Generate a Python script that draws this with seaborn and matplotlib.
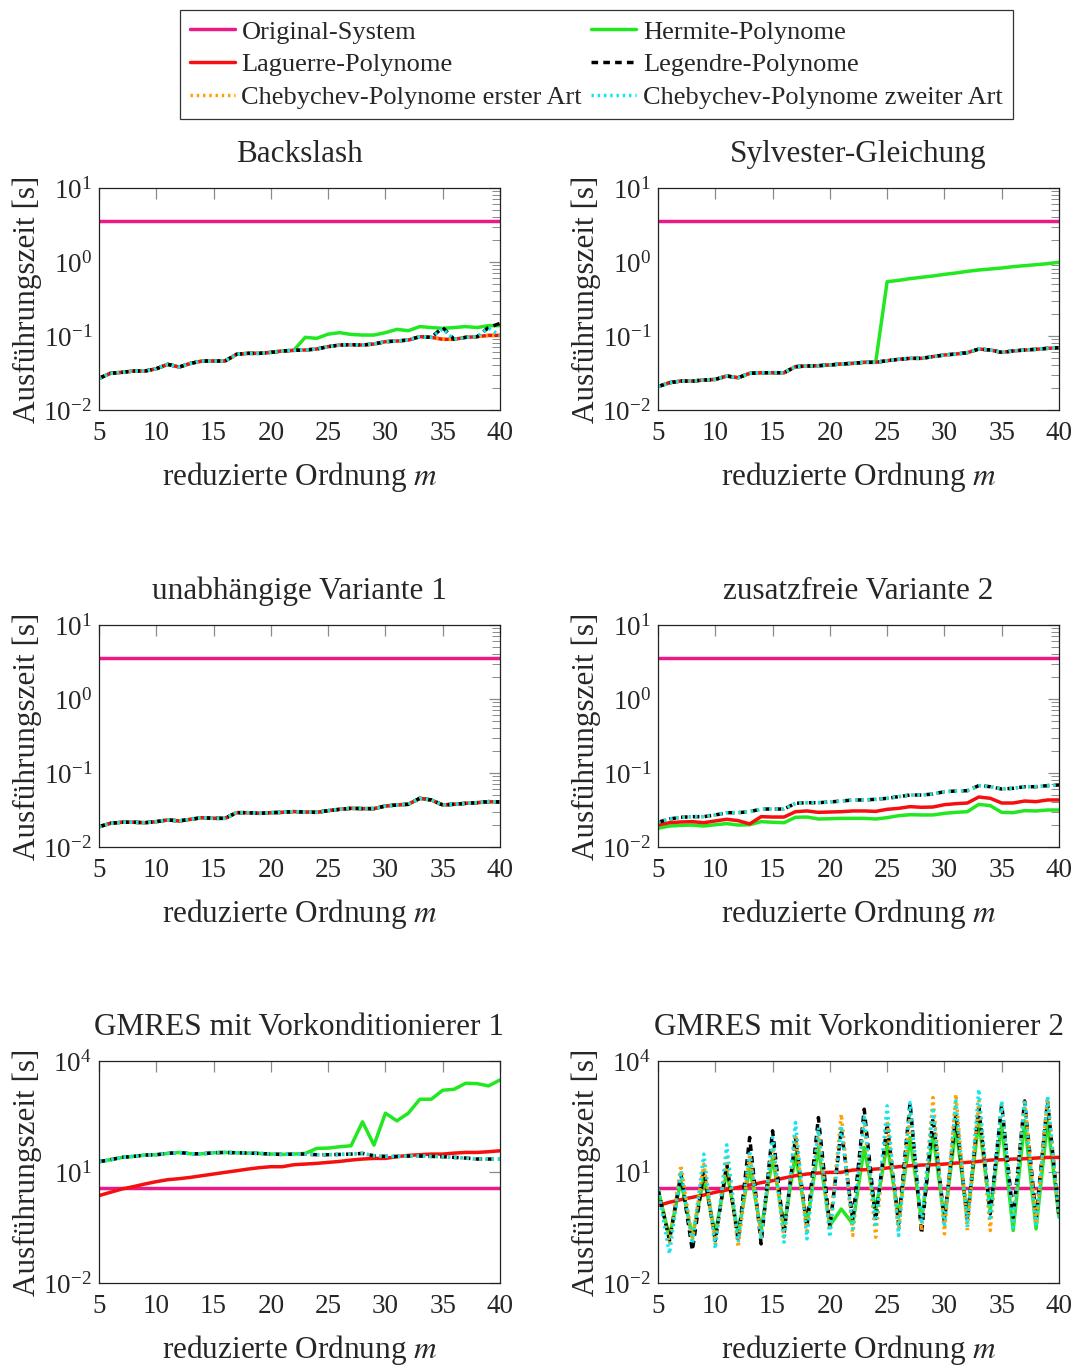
import numpy as np
import pandas as pd
import seaborn as sns
import matplotlib
matplotlib.use("Agg")
import matplotlib.pyplot as plt
from matplotlib.lines import Line2D
from matplotlib.ticker import FixedLocator, LogLocator, NullLocator, NullFormatter, LogFormatterSciNotation

# ---------------- data ----------------
m = list(range(5, 41))
ORIGINAL = 3.6

# Backslash
bs_lag = [0.0268, 0.0313, 0.0323, 0.0336, 0.0336, 0.0361, 0.0414, 0.0381, 0.0427, 0.0459, 0.0459, 0.0459,
          0.0565, 0.0583, 0.0583, 0.0601, 0.0627, 0.0640, 0.0647, 0.0667, 0.0718, 0.0755, 0.0763, 0.0755,
          0.0780, 0.0838, 0.0855, 0.0883, 0.0979, 0.0959, 0.0902, 0.0902, 0.0959, 0.0979, 0.102, 0.102]
bs_her = [0.0268, 0.0313, 0.0323, 0.0336, 0.0336, 0.0361, 0.0414, 0.0381, 0.0427, 0.0459, 0.0459, 0.0459,
          0.0565, 0.0583, 0.0583, 0.0601, 0.0627, 0.0640, 0.0959, 0.0929, 0.106, 0.111, 0.105, 0.103,
          0.103, 0.111, 0.123, 0.118, 0.134, 0.130, 0.127, 0.130, 0.134, 0.130, 0.138, 0.138]
bs_leg = [0.0268, 0.0313, 0.0323, 0.0336, 0.0336, 0.0361, 0.0414, 0.0381, 0.0427, 0.0459, 0.0459, 0.0459,
          0.0565, 0.0583, 0.0583, 0.0601, 0.0627, 0.0640, 0.0647, 0.0667, 0.0718, 0.0755, 0.0763, 0.0755,
          0.0780, 0.0838, 0.0855, 0.0883, 0.0979, 0.0959, 0.130, 0.0902, 0.0959, 0.0979, 0.130, 0.148]
bs_ch1 = [0.0268, 0.0313, 0.0323, 0.0336, 0.0336, 0.0361, 0.0414, 0.0381, 0.0427, 0.0459, 0.0459, 0.0459,
          0.0565, 0.0583, 0.0583, 0.0601, 0.0627, 0.0640, 0.0647, 0.0667, 0.0718, 0.0755, 0.0763, 0.0755,
          0.0780, 0.0838, 0.0855, 0.0883, 0.0979, 0.0959, 0.0902, 0.0902, 0.0959, 0.0979, 0.102, 0.102]
bs_ch2 = [0.0268, 0.0313, 0.0323, 0.0336, 0.0336, 0.0361, 0.0414, 0.0381, 0.0427, 0.0459, 0.0459, 0.0459,
          0.0565, 0.0583, 0.0583, 0.0601, 0.0627, 0.0640, 0.0647, 0.0667, 0.0718, 0.0755, 0.0763, 0.0755,
          0.0780, 0.0838, 0.0855, 0.0883, 0.0979, 0.0959, 0.125, 0.0902, 0.0959, 0.0979, 0.128, 0.102]

# Sylvester-Gleichung
sy_lag = [0.0207, 0.0234, 0.0246, 0.0246, 0.0254, 0.0259, 0.0288, 0.0273, 0.0313, 0.0319, 0.0319, 0.0319,
          0.0385, 0.0393, 0.0397, 0.0406, 0.0419, 0.0427, 0.0441, 0.0441, 0.0464, 0.0484, 0.0499, 0.0499,
          0.0526, 0.0554, 0.0571, 0.0595, 0.0667, 0.0647, 0.0601, 0.0627, 0.0647, 0.0661, 0.0681, 0.0695]
sy_her = [0.0207, 0.0234, 0.0246, 0.0246, 0.0254, 0.0259, 0.0288, 0.0273, 0.0313, 0.0319, 0.0319, 0.0319,
          0.0385, 0.0393, 0.0397, 0.0406, 0.0419, 0.0427, 0.0441, 0.0441, 0.542, 0.565, 0.596, 0.621,
          0.647, 0.681, 0.710, 0.748, 0.780, 0.804, 0.830, 0.865, 0.892, 0.920, 0.949, 0.990]

# unabhaengige Variante 1
uv_all = [0.0188, 0.0209, 0.0216, 0.0216, 0.0213, 0.0220, 0.0232, 0.0225, 0.0237, 0.0249, 0.0244, 0.0244,
          0.0291, 0.0291, 0.0285, 0.0291, 0.0294, 0.0301, 0.0297, 0.0294, 0.0310, 0.0323, 0.0333, 0.0330,
          0.0330, 0.0358, 0.0370, 0.0378, 0.0455, 0.0432, 0.0370, 0.0378, 0.0389, 0.0397, 0.0410, 0.0406]

# zusatzfreie Variante 2
zf_leg = [0.0216, 0.0239, 0.0252, 0.0257, 0.0257, 0.0271, 0.0291, 0.0291, 0.0300, 0.0326, 0.0326, 0.0326,
          0.0389, 0.0397, 0.0397, 0.0406, 0.0418, 0.0432, 0.0432, 0.0441, 0.0455, 0.0479, 0.0504, 0.0504,
          0.0520, 0.0559, 0.0571, 0.0577, 0.0675, 0.0653, 0.0608, 0.0621, 0.0653, 0.0653, 0.0675, 0.0689]
zf_lag = [0.0198, 0.0213, 0.0218, 0.0220, 0.0213, 0.0225, 0.0237, 0.0227, 0.0205, 0.0257, 0.0254, 0.0254,
          0.0300, 0.0307, 0.0294, 0.0297, 0.0300, 0.0307, 0.0307, 0.0303, 0.0323, 0.0333, 0.0351, 0.0344,
          0.0347, 0.0373, 0.0385, 0.0393, 0.0474, 0.0455, 0.0393, 0.0393, 0.0418, 0.0410, 0.0432, 0.0432]
zf_her = [0.0179, 0.0192, 0.0196, 0.0198, 0.0192, 0.0200, 0.0207, 0.0198, 0.0200, 0.0220, 0.0216, 0.0213,
          0.0252, 0.0254, 0.0239, 0.0241, 0.0244, 0.0244, 0.0244, 0.0239, 0.0249, 0.0265, 0.0273, 0.0271,
          0.0271, 0.0285, 0.0294, 0.0300, 0.0377, 0.0362, 0.0294, 0.0291, 0.0310, 0.0307, 0.0316, 0.0316]

# GMRES mit Vorkonditionierer 1
g1_leg = [18.95, 21.5, 24.8, 26.4, 28.7, 29.3, 31.8, 33.8, 31.1, 31.1, 33.1, 33.8,
          33.1, 32.4, 31.8, 30.5, 29.9, 30.5, 30.5, 29.3, 29.3, 29.9, 30.5, 31.8,
          27.5, 26.4, 26.4, 26.9, 26.9, 26.4, 25.9, 24.8, 23.8, 22.4, 22.4, 22.4]
g1_her = [18.95, 21.5, 24.8, 26.4, 28.7, 29.3, 31.8, 33.8, 31.1, 31.1, 33.1, 33.8,
          33.1, 32.4, 31.8, 30.5, 29.9, 30.5, 31.8, 43.4, 44.3, 48.1, 51.2, 227,
          53.3, 389, 241, 389, 926, 926, 1620, 1723, 2501, 2450, 2120, 3075]
g1_lag = [2.30, 2.83, 3.47, 4.02, 4.74, 5.48, 6.20, 6.60, 7.17, 7.95, 8.82, 9.78,
          10.8, 12.0, 13.1, 13.9, 13.9, 15.7, 16.4, 17.1, 18.2, 19.3, 21.0, 22.4,
          23.3, 23.3, 25.9, 28.1, 29.3, 30.5, 30.5, 32.4, 33.8, 33.8, 35.3, 37.5]

# GMRES mit Vorkonditionierer 2
g2_her = [3.48, 0.173, 5.83, 0.173, 7.17, 0.213, 10.8, 0.213, 13.3, 0.262, 24.8, 0.322,
          30.5, 0.396, 46.1, 0.357, 1.00, 0.396, 46.1, 0.906, 56.7, 0.599, 85.8, 0.487,
          106, 0.487, 160, 0.599, 241, 0.906, 196, 0.262, 241, 0.290, 241, 0.599]
g2_leg = [3.48, 0.141, 8.82, 0.0757, 10.8, 0.141, 16.4, 0.141, 85.8, 0.114, 130, 0.213,
          85.8, 0.322, 297, 0.322, 144, 0.487, 498, 0.487, 196, 0.396, 753, 0.213,
          297, 0.487, 365, 0.487, 552, 0.737, 679, 0.599, 835, 0.599, 835, 0.599]
g2_ch1 = [3.48, 0.114, 15.4, 0.141, 16.4, 0.114, 24.8, 0.093, 30.5, 0.173, 46.1, 0.173,
          106, 0.213, 117, 0.262, 365, 0.192, 241, 0.173, 241, 0.262, 365, 0.262,
          1027, 0.213, 1264, 0.262, 835, 0.262, 679, 0.396, 926, 0.396, 1027, 0.599]
g2_ch2 = [3.48, 0.0615, 10.8, 0.114, 30.5, 0.0839, 54.4, 0.127, 37.5, 0.156, 85.8, 0.127,
          218, 0.156, 160, 0.173, 177, 0.290, 297, 0.322, 613, 0.192, 753, 0.396,
          552, 0.322, 835, 0.322, 1723, 0.487, 835, 0.322, 835, 0.322, 1139, 0.599]
g2_lag = [1.24, 1.52, 1.79, 2.07, 2.39, 2.83, 3.27, 3.85, 4.45, 5.15, 5.83, 6.88,
          7.95, 8.82, 9.38, 9.78, 9.78, 11.3, 11.5, 12.0, 12.8, 13.9, 14.8, 15.4,
          15.7, 16.4, 17.4, 18.2, 19.3, 21.0, 21.5, 22.4, 22.8, 23.8, 24.8, 24.8]

methods = ["Original-System", "Hermite-Polynome", "Laguerre-Polynome", "Legendre-Polynome",
           "Chebychev-Polynome erster Art", "Chebychev-Polynome zweiter Art"]
colors = ["#EA1A86", "#22E822", "#F50F0F", "#000000", "#FFA000", "#10E6F0"]
dash_list = ["", "", "", (1.9, 1.5), (0.7, 1.1), (0.7, 1.1)]

orig_line = [ORIGINAL] * len(m)
panels = [
    ("Backslash", [orig_line, bs_her, bs_lag, bs_leg, bs_ch1, bs_ch2], False),
    ("Sylvester-Gleichung", [orig_line, sy_her, sy_lag, sy_lag, sy_lag, sy_lag], False),
    ("unabhängige Variante 1", [orig_line, uv_all, uv_all, uv_all, uv_all, uv_all], False),
    ("zusatzfreie Variante 2", [orig_line, zf_her, zf_lag, zf_leg, zf_leg, zf_leg], False),
    ("GMRES mit Vorkonditionierer 1", [orig_line, g1_her, g1_lag, g1_leg, g1_leg, g1_leg], True),
    ("GMRES mit Vorkonditionierer 2", [orig_line, g2_her, g2_lag, g2_leg, g2_ch1, g2_ch2], True),
]

# ---------------- style ----------------
sns.set_style("white")
plt.rcParams["font.family"] = ["Liberation Serif", "DejaVu Serif"]
plt.rcParams["mathtext.fontset"] = "stix"

W_PX, H_PX = 1075, 1365
fig = plt.figure(figsize=(W_PX / 100, H_PX / 100), dpi=100)

lefts = [99, 658]
tops = [188, 625, 1061]
AW, AH = 401, 222
LW = 2.5

palette = dict(zip(methods, colors))
dashes = dict(zip(methods, dash_list))

for i, (title, series, big) in enumerate(panels):
    r, c = divmod(i, 2)
    l, t = lefts[c], tops[r]
    ax = fig.add_axes([l / W_PX, 1 - (t + AH) / H_PX, AW / W_PX, AH / H_PX])
    df = pd.DataFrame({
        "m": m * len(methods),
        "t": [v for s in series for v in s],
        "Methode": [name for name in methods for _ in m],
    })
    sns.lineplot(data=df, x="m", y="t", hue="Methode", style="Methode",
                 hue_order=methods, style_order=methods, palette=palette,
                 dashes=dashes, linewidth=LW, sort=False, legend=False, ax=ax)
    ax.set_yscale("log")
    ax.set_xlim(5, 40)
    ax.set_xticks(list(range(5, 41, 5)))
    if big:
        ax.set_ylim(1e-2, 1e4)
        ax.yaxis.set_major_locator(FixedLocator([1e-2, 1e1, 1e4]))
        ax.yaxis.set_minor_locator(NullLocator())
    else:
        ax.set_ylim(1e-2, 1e1)
        ax.yaxis.set_major_locator(FixedLocator([1e-2, 1e-1, 1e0, 1e1]))
        ax.yaxis.set_minor_locator(LogLocator(base=10, subs=np.arange(2, 10)))
    ax.yaxis.set_major_formatter(LogFormatterSciNotation())
    ax.yaxis.set_minor_formatter(NullFormatter())
    ax.tick_params(which="both", direction="in", top=True, right=True, color="#8a8a8a")
    ax.tick_params(which="major", length=8, width=0.9, labelsize=19.5)
    ax.tick_params(axis="x", which="major", pad=8)
    ax.tick_params(axis="y", which="major", pad=5)
    ax.tick_params(which="minor", length=5.5, width=0.7)
    for sp in ax.spines.values():
        sp.set_color("#222222")
        sp.set_linewidth(0.9)
    ax.set_title(title, fontsize=22.5, pad=19)
    ax.set_xlabel("reduzierte Ordnung $m$", fontsize=22.5)
    ax.set_ylabel("Ausführungszeit [s]", fontsize=22.5)
    ax.xaxis.set_label_coords(0.5, -0.225)
    ax.yaxis.set_label_coords(-0.142, 0.5)

handles = [Line2D([], [], color=colors[k], lw=LW,
                  linestyle="-" if dash_list[k] == "" else (0, dash_list[k]))
           for k in range(len(methods))]
order = [0, 2, 4, 1, 3, 5]
leg = fig.legend([handles[k] for k in order], [methods[k] for k in order],
                 loc="upper left", bbox_to_anchor=(180 / W_PX, 1 - 10 / H_PX),
                 ncol=2, fontsize=19, frameon=True, fancybox=False,
                 handlelength=1.7, handletextpad=0.25, columnspacing=0.35,
                 labelspacing=0.36, borderpad=0.38, borderaxespad=0)
leg.get_frame().set_edgecolor("black")
leg.get_frame().set_linewidth(0.9)

fig.savefig("out.png", dpi=100)
